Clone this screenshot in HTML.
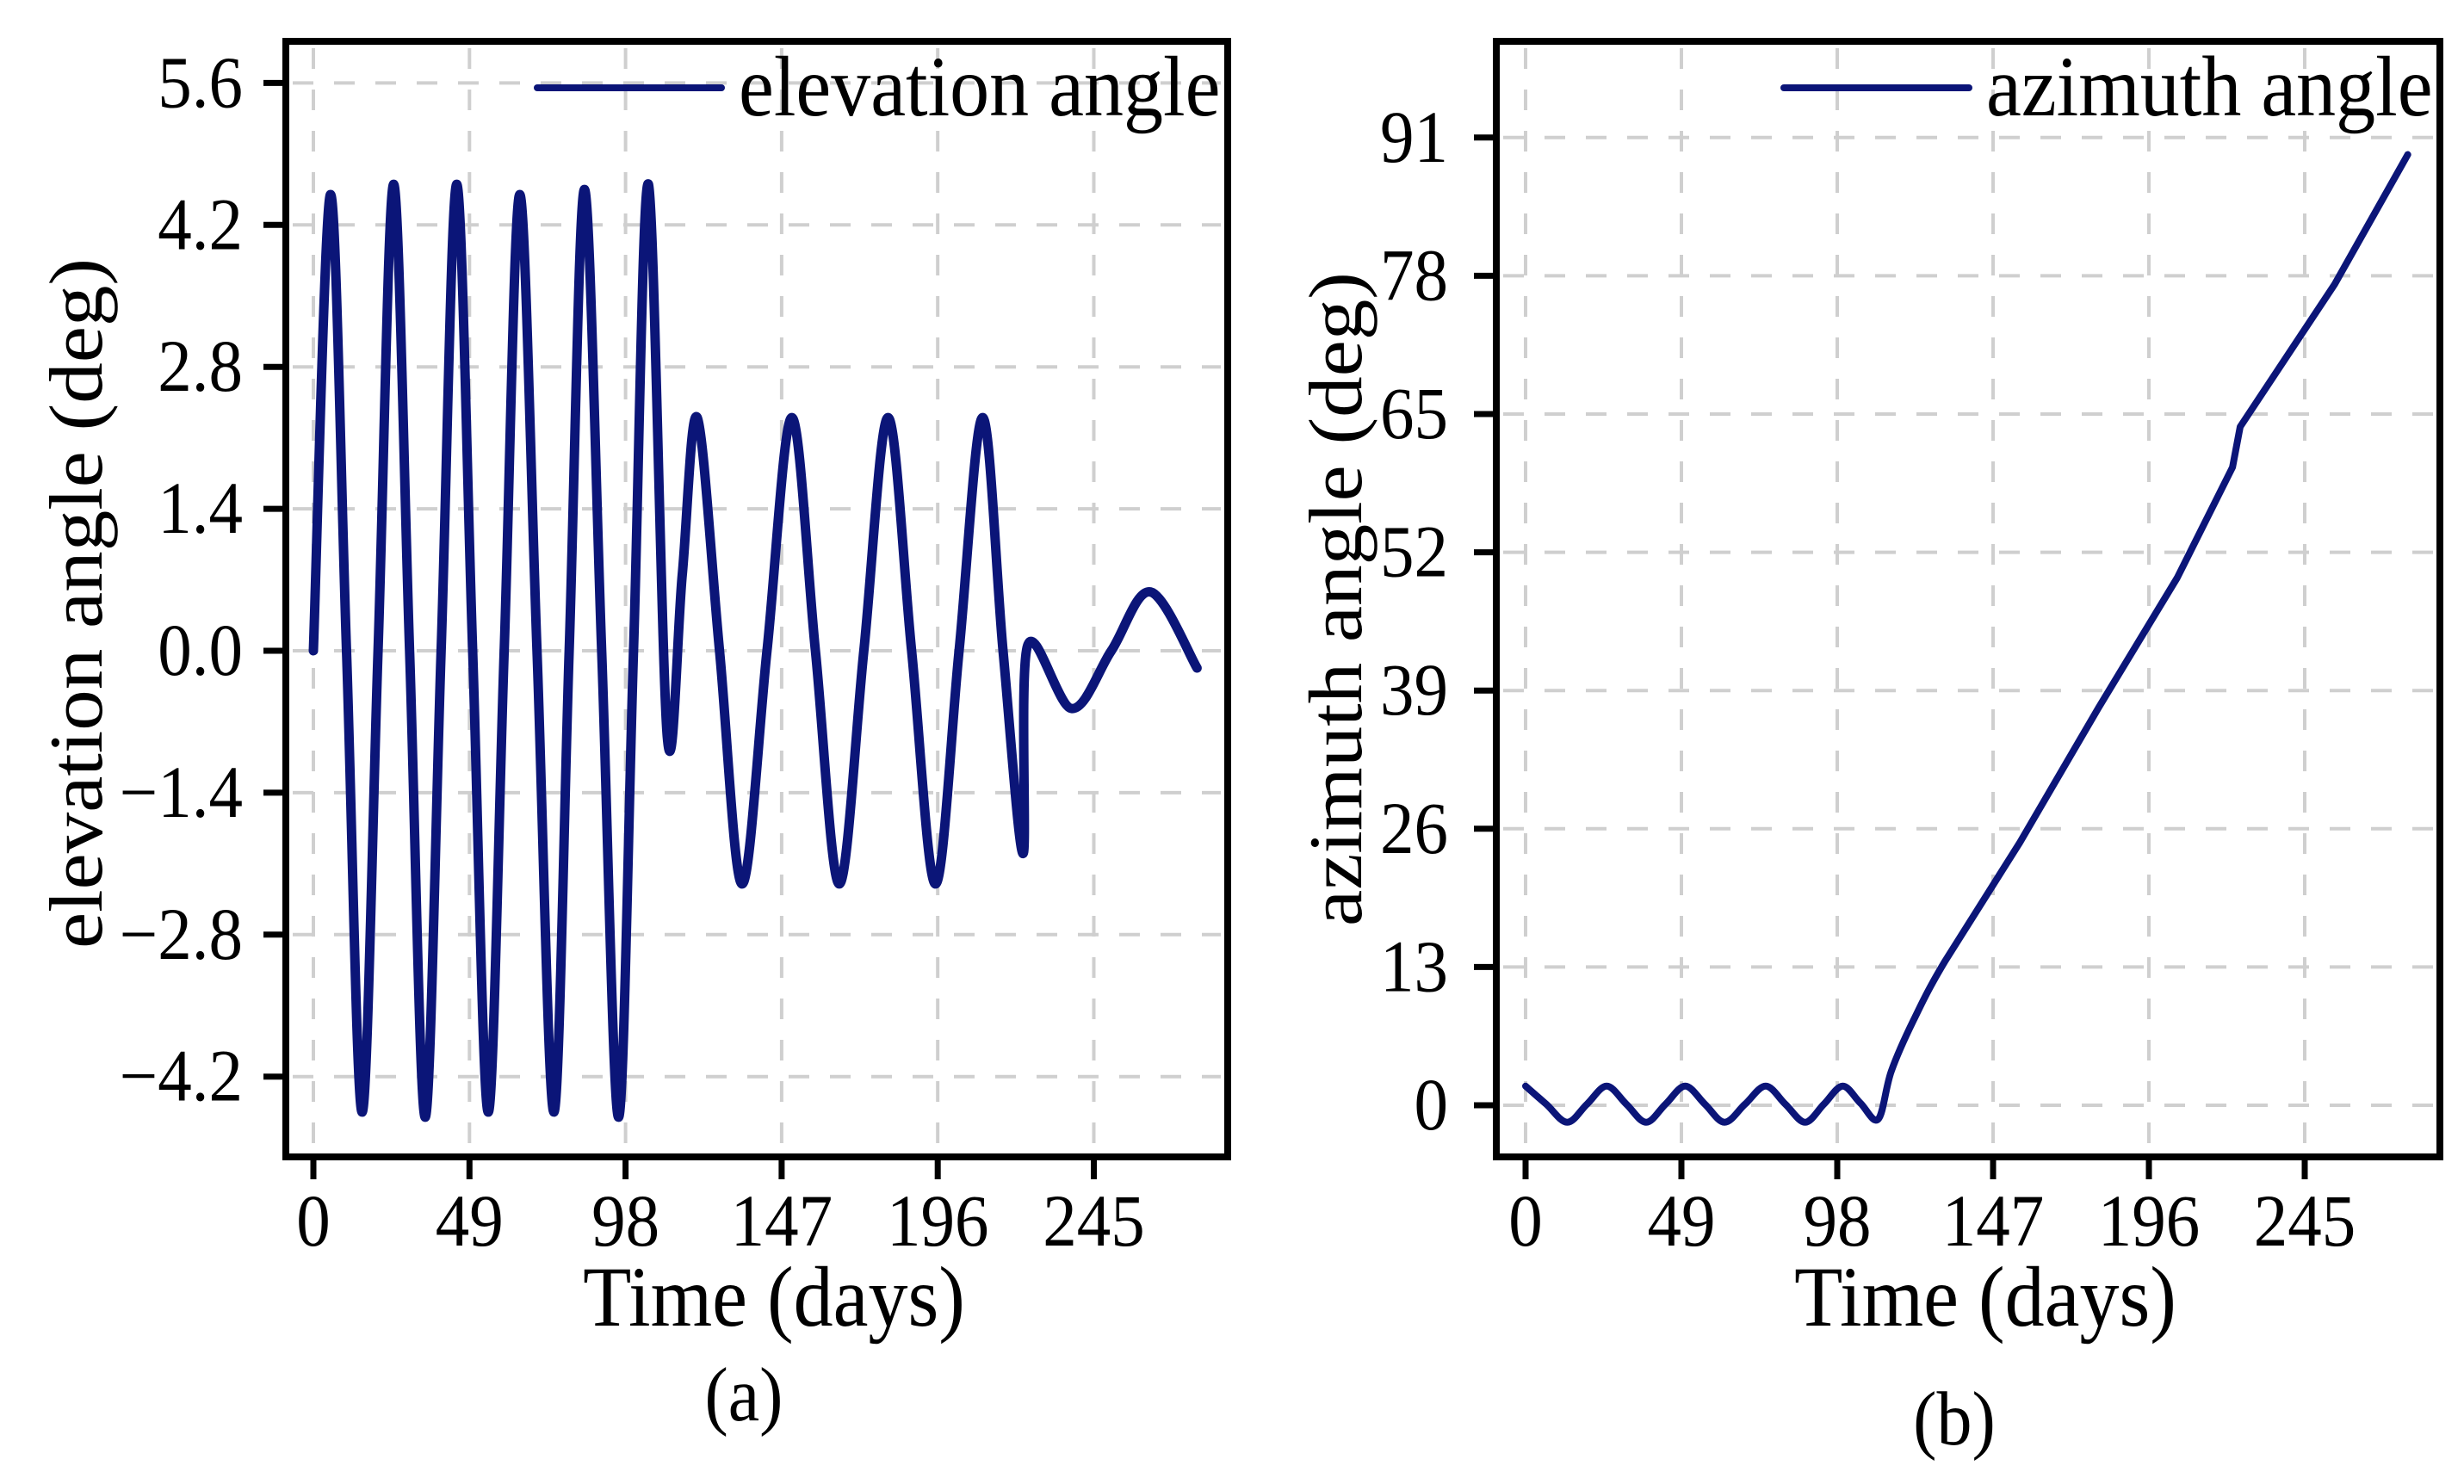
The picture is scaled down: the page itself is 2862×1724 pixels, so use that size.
<!DOCTYPE html>
<html><head><meta charset="utf-8"><style>
html,body{margin:0;padding:0;background:#fff;}
svg{display:block;font-family:"Liberation Serif",serif;}
</style></head><body>
<svg id="fig" width="2862" height="1724" viewBox="0 0 2862 1724" xmlns="http://www.w3.org/2000/svg"></svg>
<script>
const elevDays = [0,5.4,10.4,15.3,20.3,25.2,30.2,35.1,40.1,45.0,50.0,54.9,59.9,64.8,70.2,75.5,80.3,85.1,90.5,95.8,100.5,105.2,111.1,115.8,120.5,127.5,134.6,142.4,150.2,157.6,165.1,172.8,180.4,187.8,195.3,202.7,210.1,216.5,222.8,224.2,238.1,250.5,262.8,277.4];
const elevVals = [0,4.5,0,-4.55,0,4.6,0,-4.6,0,4.6,0,-4.55,0,4.5,0,-4.55,0,4.55,0,-4.6,0,4.6,-0.85,0.75,2.3,0,-2.3,0,2.3,0,-2.3,0,2.3,0,-2.3,0,2.3,0,-2.0,0.05,-0.57,0,0.58,-0.17];
const elevTicksY = [-4.2,-2.8,-1.4,0.0,1.4,2.8,4.2,5.6];
const elevTickLabels = ["\u22124.2","\u22122.8","\u22121.4","0.0","1.4","2.8","4.2","5.6"];
const aziDays = [0,6.5,13.1,19.3,25.5,31.7,37.9,44.0,50.2,56.4,62.6,69.0,75.5,81.7,87.9,93.8,99.7,105.3,110.9,115.0,122.0,132.0,155.4,180.2,204.9,222.3,224.7,254.4,277.4];
const aziVals = [1.8,0.1,-1.6,0.1,1.8,0.1,-1.6,0.1,1.8,0.1,-1.6,0.1,1.8,0.1,-1.6,0.1,1.8,0.2,-1.3,3.2,8.0,13.6,24.7,37.4,49.6,60.0,63.8,77.2,89.4];
const aziTicksY = [0,13,26,39,52,65,78,91];
const aziTickLabels = ["0","13","26","39","52","65","78","91"];
const xTicks = [0,49,98,147,196,245];
const xTickLabels = ["0","49","98","147","196","245"];

const NS="http://www.w3.org/2000/svg";
const svg=document.getElementById('fig');
const SY=1.08;
function mk(tag,attrs,parent){const e=document.createElementNS(NS,tag);for(const k in attrs)e.setAttribute(k,attrs[k]);(parent||svg).appendChild(e);return e;}
function htext(parent,x,y,size,anchor){
  return mk('text',{x:x,y:y/SY,'font-size':size,'text-anchor':anchor,fill:'#000',transform:`scale(1,${SY})`},parent);
}
function smoothPath(pts,smoothUntil){
  let d=`M${pts[0][0]},${pts[0][1]}`;
  for(let i=0;i<pts.length-1;i++){
    if(i>=smoothUntil){d+=` L${pts[i+1][0]},${pts[i+1][1]}`;continue;}
    const p0=pts[Math.max(0,i-1)],p1=pts[i],p2=pts[i+1],p3=pts[Math.min(pts.length-1,i+2)];
    const c1=[p1[0]+(p2[0]-p0[0])/6,p1[1]+(p2[1]-p0[1])/6];
    const c2=[p2[0]-(p3[0]-p1[0])/6,p2[1]-(p3[1]-p1[1])/6];
    d+=` C${c1[0]},${c1[1]} ${c2[0]},${c2[1]} ${p2[0]},${p2[1]}`;
  }
  return d;
}
function panel(cfg){
  const g=mk('g',{});
  
  
  const xs=d=>cfg.x0+d*cfg.xper;
  const ys=v=>cfg.yzero-v*cfg.yper;
  xTicks.forEach(t=>{
    const l=mk('line',{x1:xs(t),x2:xs(t),y1:cfg.top+8,y2:cfg.bottom-8,stroke:'#cfcfcf','stroke-width':4,'stroke-dasharray':'24 24'},g);
    
    
  });
  cfg.yTicks.forEach(t=>{
    const l=mk('line',{x1:cfg.left+8,x2:cfg.right-8,y1:ys(t),y2:ys(t),stroke:'#cfcfcf','stroke-width':4,'stroke-dasharray':'24 24'},g);
    
    
  });
  const pts=cfg.days.map((d,i)=>[xs(d),ys(cfg.vals[i])]);
  const p=mk('path',{d:smoothPath(pts,cfg.smoothUntil),fill:'none',stroke:'#0b1578','stroke-width':cfg.lw,'stroke-linejoin':'round','stroke-linecap':'round'},g);
  
  
  const fr=mk('rect',{x:cfg.left,y:cfg.top,width:cfg.right-cfg.left,height:cfg.bottom-cfg.top,fill:'none',stroke:'#000','stroke-width':8},g);
  
  
  xTicks.forEach((t,i)=>{
    const l=mk('line',{x1:xs(t),x2:xs(t),y1:cfg.bottom,y2:cfg.bottom+26,stroke:'#000','stroke-width':7},g);
    
    
    const tx=htext(g,xs(t),1447,79,'middle');
    tx.textContent=xTickLabels[i];
    
    
  });
  cfg.yTicks.forEach((t,i)=>{
    const l=mk('line',{x1:cfg.left-26,x2:cfg.left,y1:ys(t),y2:ys(t),stroke:'#000','stroke-width':7},g);
    
    
    const tx=htext(g,cfg.labelX,ys(t)+28,79,'end');
    tx.textContent=cfg.yLabels[i];
    
    
  });
  const xt=htext(g,(cfg.left+cfg.right)/2+20,1540,92,'middle');
  xt.textContent='Time (days)';
  
  
  const yt=mk('text',{x:0,y:0,'font-size':88,'text-anchor':'middle',fill:'#000',transform:`translate(${cfg.ytX},${cfg.ytY}) rotate(-90) scale(${SY},1)`},g);
  yt.textContent=cfg.yTitle;
  
  
  const ll=mk('line',{x1:cfg.legX1,x2:cfg.legX2,y1:102,y2:102,stroke:'#0b1578','stroke-width':8,'stroke-linecap':'round'},g);
  
  
  const lt=htext(g,cfg.legX2+20,134,92,'start');
  lt.textContent=cfg.legend;
  
  
  const cap=htext(g,cfg.capX,cfg.capY,82,'middle');
  cap.textContent=cfg.caption;
  
  
}
panel({name:'elevation-panel',seriesName:'elevation-line',left:332,right:1426,top:48,bottom:1344,x0:364,xper:181.3/49,yzero:756,yper:164.9/1.4,
  days:elevDays,vals:elevVals,yTicks:elevTicksY,yLabels:elevTickLabels,labelX:282,yTitle:'elevation angle (deg)',ytX:118,ytY:701,
  legX1:624,legX2:838,legend:'elevation angle',caption:'(a)',capX:864,capY:1650,lw:11,smoothUntil:999});
panel({name:'azimuth-panel',seriesName:'azimuth-line',left:1738,right:2834,top:48,bottom:1344,x0:1772,xper:181/49,yzero:1284,yper:160.6/13,
  days:aziDays,vals:aziVals,yTicks:aziTicksY,yLabels:aziTickLabels,labelX:1682,yTitle:'azimuth angle (deg)',ytX:1581,ytY:696,
  legX1:2072,legX2:2287,legend:'azimuth angle',caption:'(b)',capX:2270,capY:1678,lw:8,smoothUntil:21});
</script>
</body></html>
